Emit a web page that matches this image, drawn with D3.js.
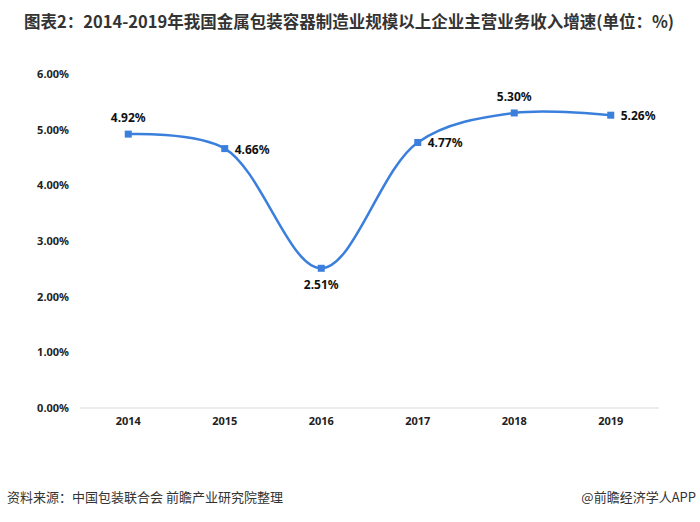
<!DOCTYPE html>
<html><head><meta charset="utf-8">
<script src="https://cdn.jsdelivr.net/npm/d3@7/dist/d3.min.js"></script>
<style>body{margin:0;background:#fff;}svg{display:block;font-family:"Noto Sans CJK SC","Noto Sans",sans-serif;}</style>
</head><body><svg id="c" width="700" height="522"></svg>
<script>
const years = ["2014","2015","2016","2017","2018","2019"];
const values = [4.92, 4.66, 2.51, 4.77, 5.30, 5.26];
const yTicks = [0,1,2,3,4,5,6];
const labelPos = ["top","right","bottom","right","top","right"];
const title = "图表2：2014-2019年我国金属包装容器制造业规模以上企业主营业务收入增速(单位：%)";
const source = "资料来源：中国包装联合会 前瞻产业研究院整理";
const brand = "@前瞻经济学人APP";

const svg = d3.select("#c");
const x = d3.scaleBand().domain(years).range([80, 659]);
const y = d3.scaleLinear().domain([0, 6]).range([408, 74]);

svg.append("text").attr("x", 349).attr("y", 28).attr("text-anchor","middle")
  .attr("font-size", 16.5).attr("font-weight","bold").attr("fill","#333").text(title);

// baseline
svg.append("line").attr("x1",80).attr("x2",659).attr("y1",y(0)).attr("y2",y(0))
  .attr("stroke","#d9d9d9").attr("stroke-width",1);

const yAxis = d3.axisLeft(y).tickValues(yTicks).tickFormat(d => d.toFixed(2)+"%").tickSize(0).tickPadding(0);
const ya = svg.append("g").attr("transform","translate(69,0)").call(yAxis);
ya.select(".domain").remove();
ya.selectAll("text").attr("font-size",11).attr("font-weight","bold").attr("fill","#222")
  .attr("font-family","'Noto Sans',sans-serif");

const xAxis = d3.axisBottom(x).tickSize(0).tickPadding(0);
const xa = svg.append("g").attr("transform","translate(0,417)").call(xAxis);
xa.select(".domain").remove();
xa.selectAll("text").attr("font-size",11).attr("font-weight","bold").attr("fill","#222")
  .attr("font-family","'Noto Sans',sans-serif");

const cx = d => x(d) + x.bandwidth()/2;
const line = d3.line().x((d,i)=>cx(years[i])).y(d=>y(d)).curve(d3.curveCatmullRom.alpha(0.5));
svg.append("path").datum(values).attr("d", line).attr("fill","none")
  .attr("stroke","#3b7fdc").attr("stroke-width",2.5);

svg.selectAll("rect.m").data(values).enter().append("rect").attr("class","m")
  .attr("x",(d,i)=>cx(years[i])-3.5).attr("y",d=>y(d)-3.5).attr("width",7).attr("height",7)
  .attr("fill","#3b7fdc");

svg.selectAll("text.lbl").data(values).enter().append("text").attr("class","lbl")
  .attr("x",(d,i)=> labelPos[i]==="right" ? cx(years[i])+10 : cx(years[i]))
  .attr("y",(d,i)=> labelPos[i]==="top" ? y(d)-12 : labelPos[i]==="bottom" ? y(d)+21 : y(d)+5)
  .attr("text-anchor",(d,i)=> labelPos[i]==="right" ? "start" : "middle")
  .attr("font-size",12).attr("font-weight","bold").attr("fill","#111")
  .attr("font-family","'Noto Sans',sans-serif")
  .text(d=>d.toFixed(2)+"%");

svg.append("text").attr("x",7).attr("y",502).attr("font-size",13).attr("fill","#333").text(source);
svg.append("text").attr("x",696).attr("y",502).attr("text-anchor","end").attr("font-size",13).attr("fill","#333").text(brand);
</script></body></html>
